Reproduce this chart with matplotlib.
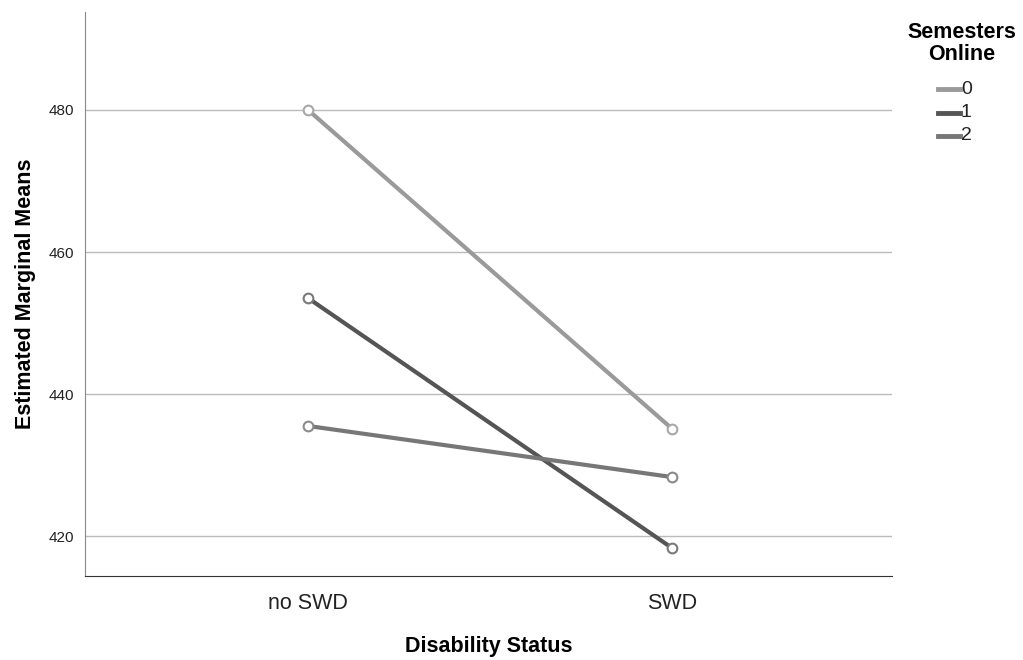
import matplotlib
matplotlib.use("Agg")
import matplotlib.pyplot as plt
from matplotlib.lines import Line2D

categories = ["no SWD", "SWD"]
series_names = ["0", "1", "2"]
values_0 = [480.0, 435.1]
values_1 = [453.5, 418.3]
values_2 = [435.5, 428.3]
yticks = [420, 440, 460, 480]

colors = ["#9a9a9a", "#555555", "#777777"]
marker_edge = ["#a8a8a8", "#7a7a7a", "#8a8a8a"]

plt.rcParams['font.family'] = ['Liberation Sans', 'DejaVu Sans']
fig = plt.figure(figsize=(10.23, 6.6), dpi=100)
ax = fig.add_axes([85/1023, 1-576/660, (892-85)/1023, (576-12)/660])

x = list(range(len(categories)))
for vals, c, mc in zip([values_0, values_1, values_2], colors, marker_edge):
    ax.plot(x, vals, color=c, lw=3, zorder=3)
    ax.plot(x, vals, ls='none', marker='o', ms=7, mfc='white', mec=mc, mew=1.5, zorder=4)

ax.set_xlim(-0.613, 1.604)
ax.set_ylim(414.37, 493.8)
ax.set_yticks(yticks)
ax.set_yticklabels([str(t) for t in yticks], fontsize=11, color='#222222')
ax.set_xticks(x)
ax.set_xticklabels(categories, fontsize=15.5, color='#222222')
ax.tick_params(axis='both', length=0, pad=8)
ax.tick_params(axis='x', pad=12)
ax.grid(axis='y', color='#bbbbbb', lw=1)
ax.set_axisbelow(True)
for s in ['top', 'right']:
    ax.spines[s].set_visible(False)
ax.spines['left'].set_color('#888888')
ax.spines['bottom'].set_color('#333333')
ax.set_xlabel("Disability Status", fontsize=15.5, fontweight='bold', labelpad=16)
ax.set_ylabel("Estimated Marginal Means", fontsize=15.5, fontweight='bold', labelpad=9)

# Legend drawn manually in figure pixel coordinates
W, H = 1023, 660
fig.text(962/W, 1-32/H, "Semesters", ha='center', va='center', fontsize=15.5, fontweight='bold')
fig.text(962/W, 1-55/H, "Online", ha='center', va='center', fontsize=15.5, fontweight='bold')
for i, (name, c) in enumerate(zip(series_names, colors)):
    yy = 1 - (89 + i*23.5)/H
    fig.add_artist(Line2D([938/W, 960/W], [yy, yy], color=c, lw=3.5, transform=fig.transFigure))
    fig.text(961/W, yy, name, ha='left', va='center', fontsize=14, color='#222222')

fig.savefig("out.png", dpi=100)
